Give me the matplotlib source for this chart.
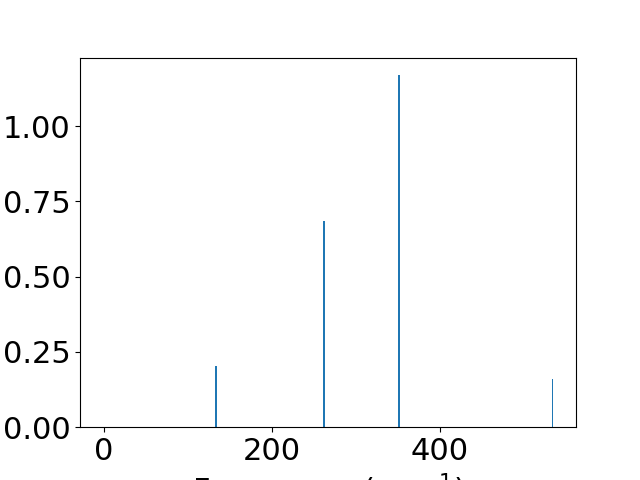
import matplotlib
matplotlib.use("Agg")
import matplotlib.pyplot as plt

frequencies = [133.3, 261.9, 351.2, 534.0]
intensities = [0.203, 0.684, 1.169, 0.159]

plt.rcParams['font.size'] = 22
fig, ax = plt.subplots(figsize=(6.4, 4.8), dpi=100)
ax.bar(frequencies, intensities, width=2.0, color='#1f77b4')
ax.set_xlim(-28.6, 561.9)
ax.set_ylim(0, 1.228)
ax.set_xticks([0, 200, 400])
ax.set_yticks([0.0, 0.25, 0.5, 0.75, 1.0])
ax.set_xlabel('Frequency (cm$^{-1}$)')
fig.savefig('out.png', dpi=100)
